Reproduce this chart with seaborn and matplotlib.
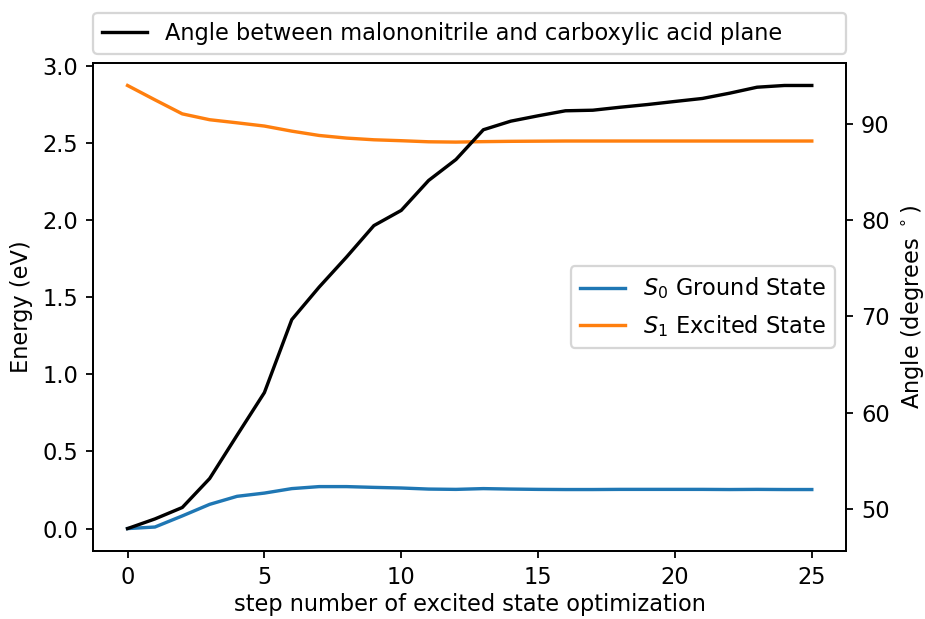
import matplotlib
matplotlib.use("Agg")
import matplotlib.pyplot as plt
import seaborn as sns
import pandas as pd

steps = list(range(26))
s0_energy = [0.000, 0.010, 0.082, 0.157, 0.209, 0.230, 0.259, 0.272, 0.272, 0.267,
             0.263, 0.256, 0.254, 0.259, 0.256, 0.254, 0.253, 0.253, 0.254, 0.254,
             0.254, 0.254, 0.253, 0.254, 0.253, 0.253]
s1_energy = [2.872, 2.779, 2.688, 2.650, 2.630, 2.609, 2.576, 2.548, 2.531, 2.520,
             2.514, 2.507, 2.505, 2.508, 2.510, 2.511, 2.512, 2.512, 2.512, 2.512,
             2.512, 2.512, 2.512, 2.512, 2.512, 2.512]
angle = [47.96, 48.96, 50.15, 53.16, 57.65, 62.09, 69.67, 73.05, 76.17, 79.44,
         81.02, 84.13, 86.31, 89.40, 90.29, 90.85, 91.37, 91.43, 91.74, 92.02,
         92.34, 92.65, 93.20, 93.82, 94.00, 94.00]

df = pd.DataFrame({"step": steps, "s0": s0_energy, "s1": s1_energy, "angle": angle})

DPI = 162
plt.rcParams["xtick.major.size"] = 3.2
plt.rcParams["ytick.major.size"] = 3.2
fig = plt.figure(figsize=(925 / DPI, 619 / DPI), dpi=DPI)
ax = fig.add_axes([0.1009, 0.1103, 0.9146 - 0.1009, 0.8977 - 0.1103])

sns.lineplot(data=df, x="step", y="s0", ax=ax, color="#1f77b4", label=r"$S_0$ Ground State")
sns.lineplot(data=df, x="step", y="s1", ax=ax, color="#ff7f0e", label=r"$S_1$ Excited State")
ax.set_xlabel("step number of excited state optimization", labelpad=2)
ax.set_ylabel("Energy (eV)")
ax.set_xticks([0, 5, 10, 15, 20, 25])
ax.legend(loc="center right")

ax2 = ax.twinx()
sns.lineplot(data=df, x="step", y="angle", ax=ax2, color="black",
             label="Angle between malononitrile and carboxylic acid plane")
ax2.set_ylabel(r"Angle (degrees $^\circ$)")
ax2.legend(loc="lower left", bbox_to_anchor=(0, 1.02, 1, 0.1), mode="expand",
           borderaxespad=0)

fig.savefig("out.png", dpi=DPI)
